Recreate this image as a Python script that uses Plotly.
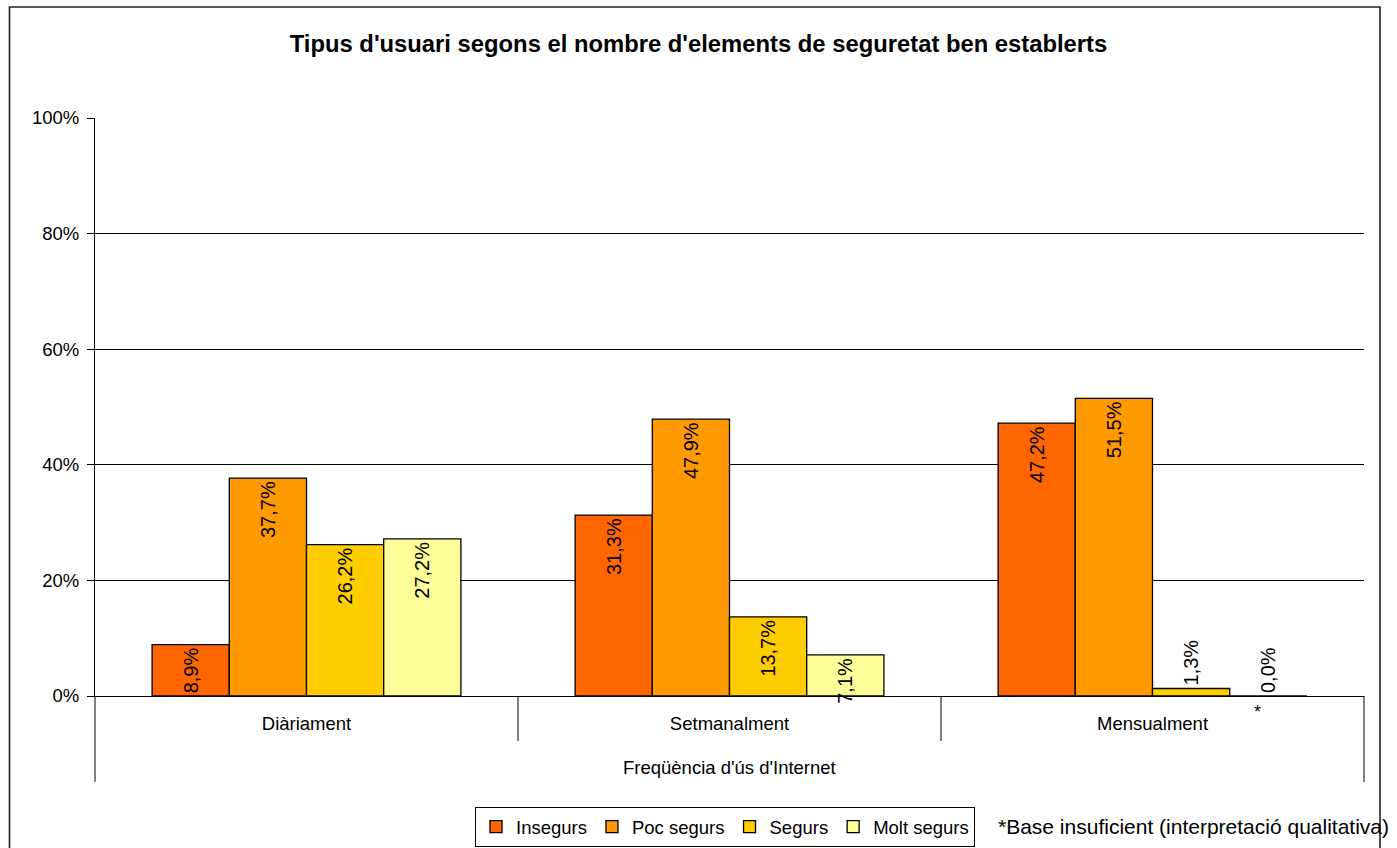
import plotly.graph_objects as go

categories = ["Diàriament", "Setmanalment", "Mensualment"]
series_names = ["Insegurs", "Poc segurs", "Segurs", "Molt segurs"]
insegurs = [8.9, 31.3, 47.2]
poc_segurs = [37.7, 47.9, 51.5]
segurs = [26.2, 13.7, 1.3]
molt_segurs = [27.2, 7.1, 0.0]
colors = ["#FF6600", "#FF9900", "#FFCC00", "#FFFF99"]
y_ticks = [0, 20, 40, 60, 80, 100]

FONT = "Liberation Sans, Arial, sans-serif"

def fmt(v):
    return f"{v:.1f}".replace(".", ",") + "%"

fig = go.Figure()
for name, vals, col in zip(series_names, [insegurs, poc_segurs, segurs, molt_segurs], colors):
    fig.add_trace(go.Bar(
        name=name, x=categories, y=vals,
        marker=dict(color=col, line=dict(color="black", width=1.3)),
        text=[fmt(v) for v in vals],
        textposition=["outside" if v < 5 else "inside" for v in vals],
        insidetextanchor="end",
        textangle=-90,
        constraintext="none",
        textfont=dict(family=FONT, size=20, color="black"),
        cliponaxis=False,
    ))

W, H = 1397, 880
L, R, T = 95, 33, 118
B = H - 696
pw, ph = W - L - R, H - T - B

def px_x(x):
    return (x - L) / pw

def px_y(y):
    return (H - B - y) / ph

fig.update_layout(
    width=W, height=H,
    margin=dict(l=L, r=R, t=T, b=B),
    paper_bgcolor="white", plot_bgcolor="white",
    font=dict(family=FONT, size=18.5, color="black"),
    barmode="group", bargap=0.27, bargroupgap=0,
    title=dict(text="Tipus d'usuari segons el nombre d'elements de seguretat ben establerts",
               font=dict(family=FONT, size=23.8, color="black", weight="bold"),
               x=0.5, xanchor="center", y=1 - 44 / H, yanchor="middle"),
    showlegend=True,
    legend=dict(orientation="h", x=px_x(725), xanchor="center", y=px_y(807), yanchor="top",
                bordercolor="black", borderwidth=1, bgcolor="white",
                font=dict(family=FONT, size=18.5, color="black"), itemwidth=30,
                traceorder="normal"),
    xaxis=dict(type="category", range=[-0.5, 2.5], showline=True, linecolor="black", linewidth=1,
               ticks="", showgrid=False, tickfont=dict(size=18.5), ticklabelstandoff=11),
    yaxis=dict(range=[0, 100], tickvals=y_ticks, ticktext=[f"{v}%" for v in y_ticks],
               showgrid=True, gridcolor="black", gridwidth=1,
               showline=True, linecolor="black", linewidth=1,
               ticks="outside", ticklen=7, tickcolor="black",
               tickfont=dict(size=18.5), ticklabelstandoff=4, zeroline=False),
)

shapes = []
# outer chart border
shapes.append(dict(type="rect", xref="paper", yref="paper",
                   x0=px_x(9.5), x1=px_x(1380), y0=px_y(870), y1=px_y(7),
                   line=dict(color="#222", width=1.6), fillcolor="rgba(0,0,0,0)", layer="above"))
# category axis outer lines
for xx in [0, 1]:
    shapes.append(dict(type="line", xref="paper", yref="paper", x0=xx, x1=xx,
                       y0=0, y1=px_y(782), line=dict(color="black", width=1)))
# dividers between categories
for xx in [0.5, 1.5]:
    shapes.append(dict(type="line", xref="x", yref="paper", x0=xx, x1=xx,
                       y0=0, y1=px_y(741), line=dict(color="black", width=1)))
fig.update_layout(shapes=shapes)

fig.add_annotation(text="Freqüència d'ús d'Internet", xref="paper", yref="paper",
                   x=0.5, y=px_y(767), xanchor="center", yanchor="middle", showarrow=False,
                   font=dict(family=FONT, size=18.5, color="black"))
fig.add_annotation(text="*", xref="paper", yref="paper",
                   x=px_x(1257), y=px_y(712), xanchor="center", yanchor="middle", showarrow=False,
                   font=dict(family=FONT, size=18, color="black"))
fig.add_annotation(text="*Base insuficient (interpretació qualitativa)", xref="paper", yref="paper",
                   x=px_x(996), y=px_y(826), xanchor="left", yanchor="middle", showarrow=False,
                   font=dict(family=FONT, size=21, color="black"))

fig.write_html("out.html", config={"displayModeBar": False},
               post_script="document.body.style.margin='0';document.body.style.overflow='hidden';")
